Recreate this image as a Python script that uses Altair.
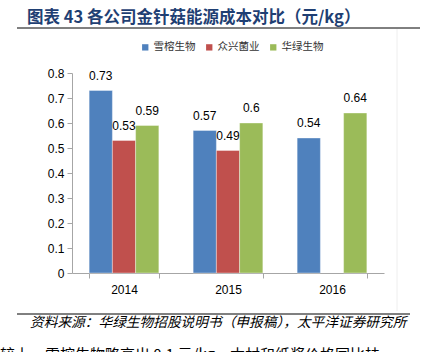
import altair as alt
import pandas as pd

years = ["2014", "2015", "2016"]
companies = ["雪榕生物", "众兴菌业", "华绿生物"]
xuerong = [0.73, 0.57, 0.54]
zhongxing = [0.53, 0.49, None]
hualv = [0.59, 0.60, 0.64]
colors = ["#4F81BD", "#C0504D", "#9BBB59"]
y_ticks = [0, 0.1, 0.2, 0.3, 0.4, 0.5, 0.6, 0.7, 0.8]

title_text = "图表 43 各公司金针菇能源成本对比（元/kg）"
source_text = "资料来源：华绿生物招股说明书（申报稿），太平洋证券研究所"
bottom_text = "较上，雪榕生物略高出 0.1 元/kg，木材和纸浆价格同比扶"

rows = []
for series, vals in zip(companies, [xuerong, zhongxing, hualv]):
    for yr, v in zip(years, vals):
        if v is not None:
            rows.append({"year": yr, "company": series, "value": v, "label": f"{v:g}"})
df = pd.DataFrame(rows)

num_font = "Liberation Sans Narrow, Liberation Sans, Arial"
cjk_font = "Noto Sans CJK SC"

base = alt.Chart(df).encode(
    x=alt.X("year:N", sort=years, title=None,
            scale=alt.Scale(paddingInner=0.33, paddingOuter=0.165),
            axis=alt.Axis(labelAngle=0, tickBand="extent", labelFont=num_font,
                          labelFontSize=12, labelColor="#000", domainColor="#A6A6A6",
                          tickColor="#A6A6A6", tickSize=5, labelPadding=6)),
    xOffset=alt.XOffset("company:N", sort=companies,
                        scale=alt.Scale(domain=companies, paddingInner=0, paddingOuter=0)),
    y=alt.Y("value:Q", title=None,
            scale=alt.Scale(domain=[0, 0.8], nice=False),
            axis=alt.Axis(values=y_ticks, format="~g", grid=False, labelFont=num_font,
                          labelFontSize=12, labelColor="#000", domainColor="#A6A6A6",
                          tickColor="#A6A6A6", tickSize=5, labelPadding=3,
                          labelOverlap=False, tickCount=9)),
)

bars = base.mark_bar(stroke="#FFFFFF", strokeWidth=0.6, strokeOpacity=0.6).encode(
    color=alt.Color("company:N", sort=companies,
                    scale=alt.Scale(domain=companies, range=colors),
                    legend=alt.Legend(title=None, orient="none", legendX=68, legendY=-31,
                                      direction="horizontal", symbolType="square",
                                      symbolSize=40, symbolStrokeWidth=0,
                                      labelFont=cjk_font, labelFontSize=10.5,
                                      labelColor="#333", labelOffset=3,
                                      columnPadding=8)),
)

labels = base.mark_text(dy=-8, baseline="bottom", font=num_font, fontSize=12,
                        color="#000").encode(
    text="label:N",
)

title = alt.Chart(pd.DataFrame({"t": [title_text]})).mark_text(
    align="left", baseline="alphabetic", font=cjk_font, fontSize=16.5, fontWeight="bold",
    color="#1F3F73").encode(x=alt.value(-45), y=alt.value(-50), text="t:N")

title_line = alt.Chart(pd.DataFrame({"a": [0]})).mark_rule(color="#000", strokeWidth=1).encode(
    x=alt.value(-55), x2=alt.value(348), y=alt.value(-45))

right_border = alt.Chart(pd.DataFrame({"a": [0]})).mark_rule(color="#EEEEEE", strokeWidth=1).encode(
    x=alt.value(325), y=alt.value(-44), y2=alt.value(238))

foot_line = alt.Chart(pd.DataFrame({"a": [0]})).mark_rule(color="#000", strokeWidth=1).encode(
    x=alt.value(-55), x2=alt.value(338), y=alt.value(241))

source = alt.Chart(pd.DataFrame({"t": [source_text]})).mark_text(
    align="left", baseline="middle", font=cjk_font, fontSize=13.7, fontStyle="italic",
    color="#000").encode(x=alt.value(-42), y=alt.value(250), text="t:N")

bottom = alt.Chart(pd.DataFrame({"t": [bottom_text]})).mark_text(
    align="left", baseline="middle", font=cjk_font, fontSize=15,
    color="#000").encode(x=alt.value(-72), y=alt.value(282), text="t:N")

chart = alt.layer(right_border, bars, labels, title, title_line, foot_line, source, bottom).properties(
    width=312, height=200,
    padding={"left": 72, "top": 73, "right": 39, "bottom": 79},
    autosize=alt.AutoSizeParams(type="none"),
    background="#FFFFFF",
).configure_view(stroke=None)

chart.save("out.html", embed_options={"renderer": "svg", "actions": False})
